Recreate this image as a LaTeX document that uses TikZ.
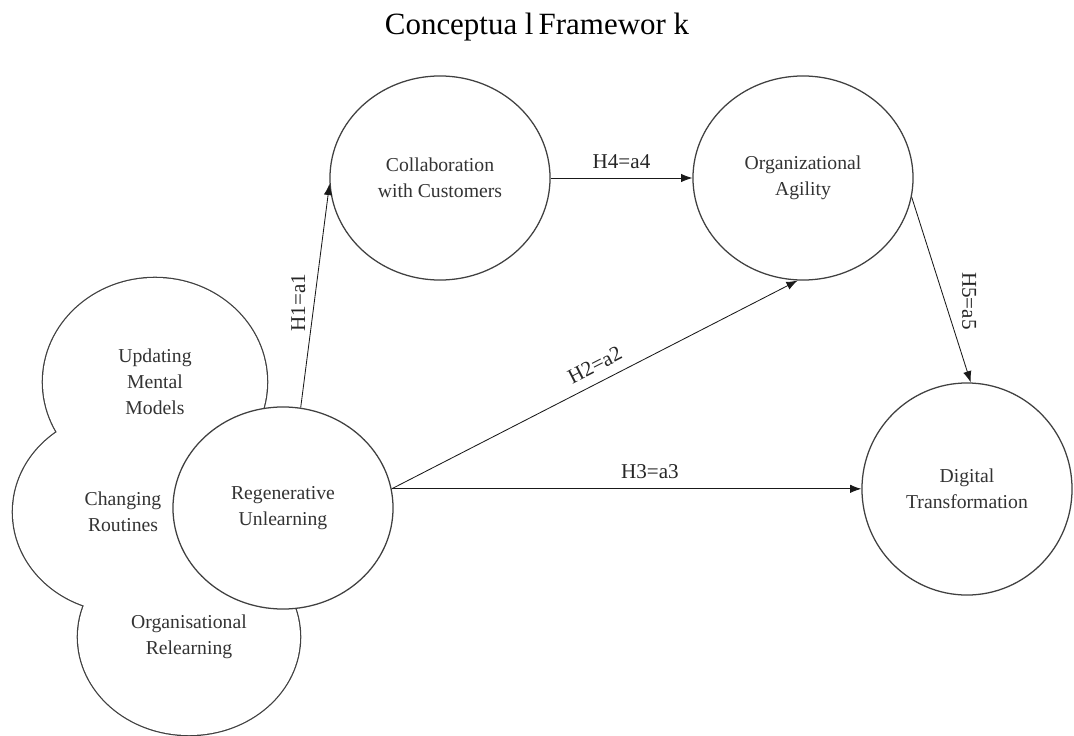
\documentclass[tikz,border=0pt]{standalone}
\usepackage{fontspec}
\setmainfont{Liberation Serif}
\usetikzlibrary{shapes.geometric,arrows.meta}

\begin{document}
\begin{tikzpicture}[x=0.025cm, y=-0.025cm,
    bub/.style={ellipse, draw=black!75, fill=white, line width=0.9pt, inner sep=0pt,
        minimum width=5.5cm, minimum height=5.1cm, align=center, text=black!80,
        font=\fontsize{14}{18.5}\selectfont},
    txt/.style={align=center, text=black!80, font=\fontsize{14}{18.5}\selectfont},
    link/.style={draw=black!90, line width=0.6pt, -{Latex[length=8pt,width=6pt]}},
    lbl/.style={font=\fontsize{15}{18}\selectfont, text=black!85, inner sep=2pt}]
    \useasboundingbox (0,0) rectangle (1074,736);

    \node[font=\fontsize{22}{26}\selectfont] (title) at (537,27) {Conceptua l\,Framewor k};

    % the three circles behind, only their outer outline shows
    \foreach \cx/\cy/\rx/\ry in {155/382/2.8cm/2.6cm, 123/512/2.75cm/2.5cm, 189/637/2.775cm/2.45cm}
        \draw[draw=black!75, line width=1.8pt] (\cx,\cy) ellipse [x radius=\rx, y radius=\ry];
    \foreach \cx/\cy/\rx/\ry in {155/382/2.8cm/2.6cm, 123/512/2.75cm/2.5cm, 189/637/2.775cm/2.45cm}
        \fill[white] (\cx,\cy) ellipse [x radius=\rx, y radius=\ry];

    \node[txt] (upd) at (155,382) {Updating\\Mental\\Models};
    \node[txt] (chg) at (123,512) {Changing\\Routines};
    \node[txt] (org) at (189,637) {Organisational\\Relearning};

    \node[bub, minimum height=5.05cm] (reg) at (283,508) {Regenerative\\Unlearning};
    \node[bub] (col) at (440,178) {Collaboration\\with Customers};
    \node[bub] (agi) at (803,178) {Organizational\\Agility};
    \node[bub, minimum width=5.25cm, minimum height=5.3cm] (dig) at (967,489) {Digital\\Transformation};

    % hypotheses
    \draw[link] (reg.80) -- node[lbl, pos=0.47, rotate=90, above=4pt] (h1) {H1=a1} (col.183);
    \draw[link] (reg.10) -- node[lbl, pos=0.52, sloped, above=5pt] (h2) {H2=a2} (agi.-93);
    \draw[link] (reg.10) -- node[lbl, pos=0.55, above=5pt] (h3) {H3=a3} (reg.10 -| dig.west);
    \draw[link] (col.east) -- node[lbl, above=4pt] (h4) {H4=a4} (agi.west);
    \draw[link] (agi.-10) -- node[lbl, pos=0.56, rotate=-90, above=10pt] (h5) {H5=a5} (dig.88);
\end{tikzpicture}
\end{document}
